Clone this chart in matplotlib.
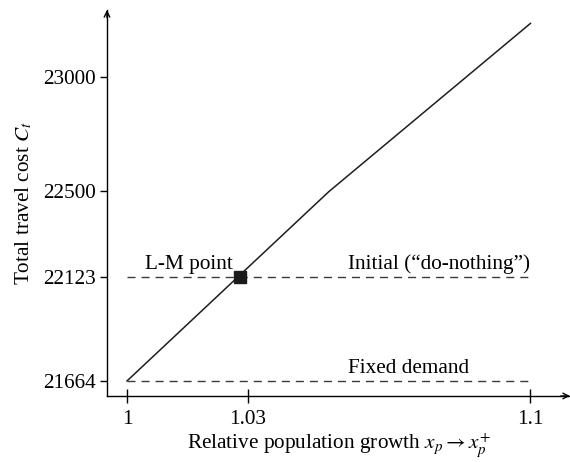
import matplotlib
matplotlib.use("Agg")
import matplotlib.pyplot as plt

plt.rcParams["font.family"] = ["Liberation Serif", "DejaVu Serif"]
plt.rcParams["mathtext.fontset"] = "stix"

# Total travel cost vs. relative population growth
growth = [1.0, 1.05, 1.1]
cost = [21664, 22496, 23236]

initial_cost = 22123
fixed_cost = 21664
lm_point = (1.028, 22123)

x_ticks = [1.0, 1.03, 1.1]
x_labels = ["1", "1.03", "1.1"]
y_ticks = [21664, 22123, 22500, 23000]

FS = 15.3
dash = (0, (5.8, 4.3))

fig = plt.figure(figsize=(5.7, 4.62), dpi=100)
ax = fig.add_axes([0.1877, 0.1429, 0.8123, 0.8355])

ax.plot(growth, cost, color="#1e1e1e", lw=1.1)
ax.plot([growth[0], growth[-1]], [initial_cost, initial_cost], color="#3a3a3a",
        lw=1.0, ls=dash)
ax.plot([growth[0], growth[-1]], [fixed_cost, fixed_cost], color="#3a3a3a",
        lw=1.0, ls=dash)
ax.plot(*lm_point, marker="s", ms=8, color="#1a1a1a", zorder=5)

ax.text(1.0045, initial_cost + 35, "L-M point", fontsize=FS, ha="left", va="baseline")
ax.text(1.0548, initial_cost + 35, "Initial (\u201cdo-nothing\u201d)", fontsize=FS,
        ha="left", va="baseline")
ax.text(1.0548, fixed_cost + 35, "Fixed demand", fontsize=FS, ha="left", va="baseline")

ax.set_xlim(0.99504, 1.1098)
ax.set_ylim(21598, 23295)

ax.set_xticks(x_ticks)
ax.set_xticklabels(x_labels)
ax.set_yticks(y_ticks)
ax.set_yticklabels([str(v) for v in y_ticks])
ax.tick_params(axis="x", direction="inout", length=10, width=1, labelsize=FS, pad=5)
ax.tick_params(axis="y", direction="out", length=5, width=1, labelsize=FS, pad=3)

for side in ("top", "right"):
    ax.spines[side].set_visible(False)
for side in ("left", "bottom"):
    ax.spines[side].set_linewidth(1.0)

# arrowheads at the end of each axis
ax.annotate("", xy=(1.0, 0), xytext=(0.98, 0), xycoords="axes fraction",
            arrowprops=dict(arrowstyle="->", lw=1.0, color="black",
                            mutation_scale=10, shrinkA=0, shrinkB=0))
ax.annotate("", xy=(0, 1.0), xytext=(0, 0.98), xycoords="axes fraction",
            arrowprops=dict(arrowstyle="->", lw=1.0, color="black",
                            mutation_scale=10, shrinkA=0, shrinkB=0))

ax.set_xlabel(r"Relative population growth $x_p \rightarrow x_p^{+}$", fontsize=FS,
              labelpad=2)
ax.set_ylabel(r"Total travel cost $C_t$", fontsize=FS, labelpad=6)

fig.savefig("out.png", dpi=100)
